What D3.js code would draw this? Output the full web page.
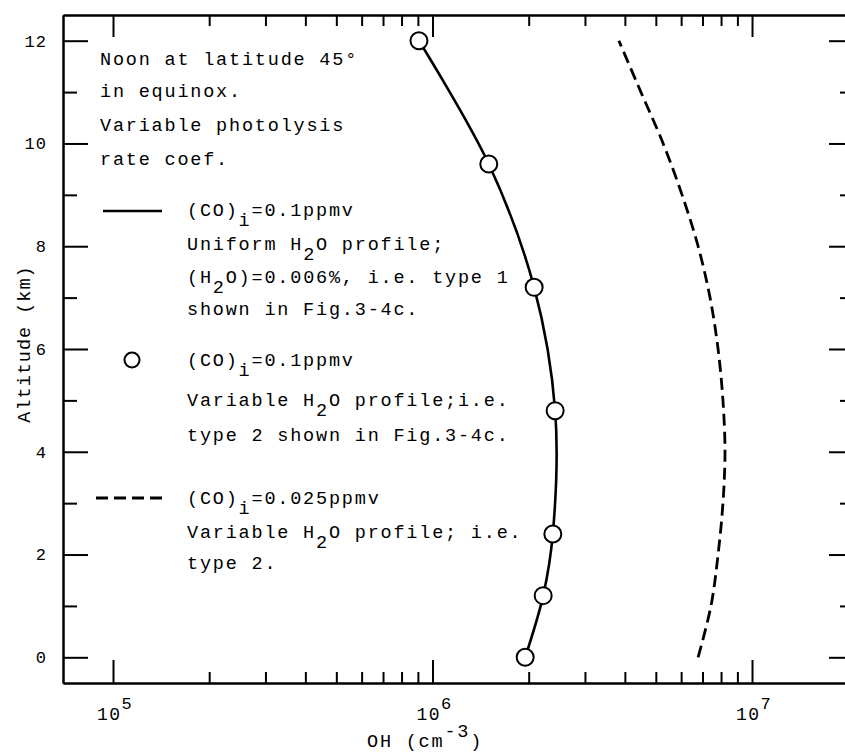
<!DOCTYPE html>
<html>
<head>
<meta charset="utf-8">
<script src="https://cdn.jsdelivr.net/npm/d3@7"></script>
<style>
  body { margin: 0; background: #fff; }
  svg text { font-family: "Liberation Mono", "DejaVu Sans Mono", monospace; fill: #000; }
  .axis path, .axis line { stroke: #000; stroke-width: 2; }
</style>
</head>
<body>
<div id="chart"></div>
<script>
// altitude (km) and OH (cm^-3)
const altProfile = [0, 1.2, 2.4, 4.8, 7.2, 9.6, 12];
const ohUniform = [1.95e6, 2.22e6, 2.38e6, 2.42e6, 2.08e6, 1.50e6, 9.07e5];   // solid line
const ohVariable = [1.95e6, 2.22e6, 2.38e6, 2.42e6, 2.08e6, 1.50e6, 9.07e5];  // circles

const altDashed = [0, 1, 2, 3, 4, 5, 6, 7, 8, 9, 10, 11, 12];
const ohDashed = [6.78e6, 7.44e6, 7.83e6, 8.11e6, 8.23e6, 8.11e6, 7.83e6, 7.39e6, 6.78e6, 6.04e6, 5.27e6, 4.49e6, 3.83e6];

const xMajor = [1e5, 1e6, 1e7];
const xMinor = [2e5, 3e5, 4e5, 5e5, 6e5, 7e5, 8e5, 9e5, 2e6, 3e6, 4e6, 5e6, 6e6, 7e6, 8e6, 9e6];
const xExp = ["5", "6", "7"];
const yMajor = [0, 2, 4, 6, 8, 10, 12];
const yMinor = [1, 3, 5, 7, 9, 11];

const W = 845, H = 754;
const mLeft = 63, mRight = 854, mTop = 15, mBottom = 683;

const svg = d3.select("#chart").append("svg")
  .attr("width", W).attr("height", H);

const x = d3.scaleLog()
  .domain([Math.pow(10, 4.8435), Math.pow(10, 7.3192)])
  .range([mLeft, mRight]);
const y = d3.scaleLinear()
  .domain([-0.5, 12.5])
  .range([mBottom, mTop]);

// axes (ticks point inward)
svg.append("g").attr("class", "axis")
  .attr("transform", `translate(0,${mBottom})`)
  .call(d3.axisBottom(x).tickValues(xMajor).tickFormat("").tickSizeInner(-23).tickSizeOuter(0));
svg.append("g").attr("class", "axis")
  .attr("transform", `translate(0,${mBottom})`)
  .call(d3.axisBottom(x).tickValues(xMinor).tickFormat("").tickSizeInner(-11).tickSizeOuter(0));
svg.append("g").attr("class", "axis")
  .attr("transform", `translate(0,${mTop})`)
  .call(d3.axisTop(x).tickValues(xMajor).tickFormat("").tickSizeInner(-22).tickSizeOuter(0));
svg.append("g").attr("class", "axis")
  .attr("transform", `translate(0,${mTop})`)
  .call(d3.axisTop(x).tickValues(xMinor).tickFormat("").tickSizeInner(-11).tickSizeOuter(0));

const yAxis = svg.append("g").attr("class", "axis")
  .attr("transform", `translate(${mLeft},0)`)
  .call(d3.axisLeft(y).tickValues(yMajor).tickSizeInner(-25).tickSizeOuter(0).tickPadding(16));
yAxis.attr("font-family", null).attr("font-size", null);
yAxis.selectAll("text")
  .style("font-size", "17px")
  .style("letter-spacing", "1px");
svg.append("g").attr("class", "axis")
  .attr("transform", `translate(${mLeft},0)`)
  .call(d3.axisLeft(y).tickValues(yMinor).tickFormat("").tickSizeInner(-14).tickSizeOuter(0));
svg.append("g").attr("class", "axis")
  .attr("transform", `translate(${mRight},0)`)
  .call(d3.axisRight(y).tickValues(yMajor).tickFormat("").tickSizeInner(-25).tickSizeOuter(0));
svg.append("g").attr("class", "axis")
  .attr("transform", `translate(${mRight},0)`)
  .call(d3.axisRight(y).tickValues(yMinor).tickFormat("").tickSizeInner(-14).tickSizeOuter(0));

// x tick labels 10^n
xMajor.forEach((v, i) => {
  const t = svg.append("text")
    .attr("x", x(v) - 16)
    .attr("y", 720)
    .style("font-size", "18px")
    .style("letter-spacing", "1.5px");
  t.append("tspan").text("10");
  t.append("tspan").attr("dy", -11).style("font-size", "17px").text(xExp[i]);
});

// axis titles
const xt = svg.append("text")
  .attr("x", 367).attr("y", 747)
  .style("font-size", "18.5px")
  .style("letter-spacing", "1.8px");
xt.append("tspan").text("OH (cm");
xt.append("tspan").attr("dy", -10).text("-3");
xt.append("tspan").attr("dy", 10).text(")");

svg.append("text")
  .attr("transform", "translate(30,344) rotate(-90)")
  .attr("text-anchor", "middle")
  .style("font-size", "18.5px")
  .style("letter-spacing", "1px")
  .text("Altitude (km)");

// curves
const curve = d3.line()
  .x(d => x(d[0])).y(d => y(d[1]))
  .curve(d3.curveCatmullRom);
svg.append("path")
  .datum(ohUniform.map((v, i) => [v, altProfile[i]]))
  .attr("d", curve)
  .attr("fill", "none").attr("stroke", "#000").attr("stroke-width", 2.6);

svg.append("path")
  .datum(ohDashed.map((v, i) => [v, altDashed[i]]))
  .attr("d", curve)
  .attr("fill", "none").attr("stroke", "#000").attr("stroke-width", 2.8)
  .attr("stroke-dasharray", "12,6");

svg.append("g").selectAll("circle")
  .data(ohVariable.map((v, i) => [v, altProfile[i]]))
  .join("circle")
  .attr("cx", d => x(d[0])).attr("cy", d => y(d[1]))
  .attr("r", 8.5)
  .attr("fill", "#fff").attr("stroke", "#000").attr("stroke-width", 2);

// annotation / legend text
function addLine(xp, yp, parts) {
  const t = svg.append("text")
    .attr("x", xp).attr("y", yp)
    .style("font-size", "18.5px")
    .style("letter-spacing", "1.8px");
  let shift = 0;
  parts.forEach(p => {
    const s = typeof p === "string" ? { text: p, sub: false } : p;
    const target = s.sub ? 10 : 0;
    t.append("tspan").attr("dy", target - shift).text(s.text);
    shift = target;
  });
}
const sub = s => ({ text: s, sub: true });

addLine(100, 65, ["Noon at latitude 45°"]);
addLine(100, 97, ["in equinox."]);
addLine(100, 131, ["Variable photolysis"]);
addLine(100, 165, ["rate coef."]);

svg.append("line")
  .attr("x1", 103).attr("x2", 162).attr("y1", 211).attr("y2", 211)
  .attr("stroke", "#000").attr("stroke-width", 2.6);
addLine(187, 216, ["(CO)", sub("i"), "=0.1ppmv"]);
addLine(187, 250, ["Uniform H", sub("2"), "O profile;"]);
addLine(187, 283, ["(H", sub("2"), "O)=0.006%, i.e. type 1"]);
addLine(187, 315, ["shown in Fig.3-4c."]);

svg.append("circle")
  .attr("cx", 132).attr("cy", 360).attr("r", 7.5)
  .attr("fill", "#fff").attr("stroke", "#000").attr("stroke-width", 2);
addLine(187, 366, ["(CO)", sub("i"), "=0.1ppmv"]);
addLine(187, 406, ["Variable H", sub("2"), "O profile;i.e."]);
addLine(187, 441, ["type 2 shown in Fig.3-4c."]);

svg.append("line")
  .attr("x1", 96).attr("x2", 165).attr("y1", 498).attr("y2", 498)
  .attr("stroke", "#000").attr("stroke-width", 2.8)
  .attr("stroke-dasharray", "12,6");
addLine(187, 504, ["(CO)", sub("i"), "=0.025ppmv"]);
addLine(187, 538, ["Variable H", sub("2"), "O profile; i.e."]);
addLine(187, 569, ["type 2."]);
</script>
</body>
</html>
